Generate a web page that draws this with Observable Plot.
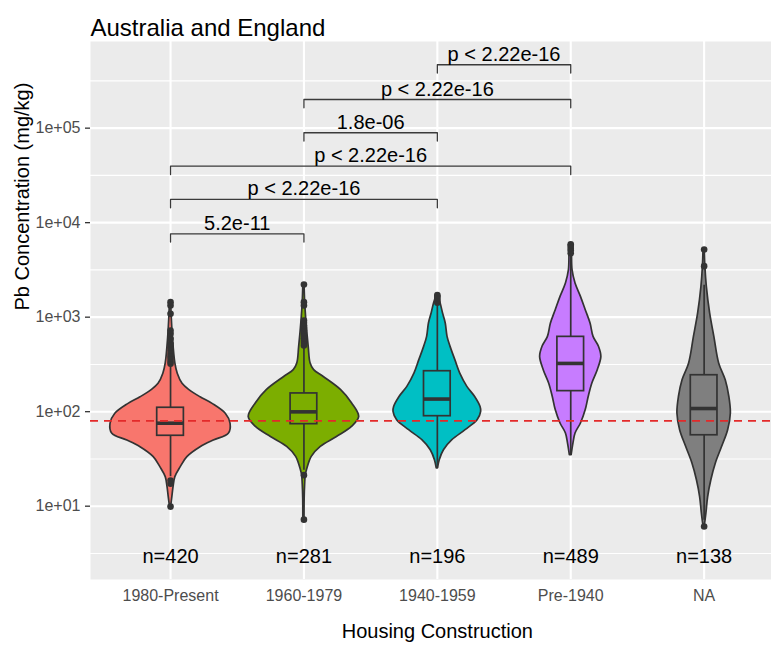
<!DOCTYPE html>
<html><head><meta charset="utf-8">
<script src="https://cdn.jsdelivr.net/npm/d3@7"></script>
<script src="https://cdn.jsdelivr.net/npm/@observablehq/plot@0.6"></script>
<style>html,body{margin:0;padding:0;background:#fff;overflow:hidden}</style>
</head><body><div id="chart"></div>
<script>
// ---------- data ----------
const titleText = "Australia and England";
const xTitle = "Housing Construction";
const yTitle = "Pb Concentration (mg/kg)";
const categories = ["1980-Present", "1960-1979", "1940-1959", "Pre-1940", "NA"];
const counts = [420, 281, 196, 489, 138];
const colors = ["#F8766D", "#7CAE00", "#00BFC4", "#C77CFF", "#7F7F7F"];

const majorBreaks = [10, 100, 1000, 10000, 100000];
const yTickLabels = ["1e+01", "1e+02", "1e+03", "1e+04", "1e+05"];
const minorBreaks = [3.162, 31.62, 316.2, 3162, 31623, 316228];

// violin profiles: concentration values and relative density (half-width)
const violinValues = [
  [9.9, 12.5, 15.9, 20.3, 25.9, 33, 42, 49.5, 58.3, 74.5, 95, 121, 142, 168, 197, 252, 324, 600, 1000, 1442],
  [7.2, 12, 17, 21.3, 24, 33.3, 42.4, 54, 69, 88, 123, 169, 233, 275, 326, 482, 923, 1442, 2213],
  [25.1, 30.7, 39.1, 49.9, 63.7, 81.3, 99.6, 112, 143, 183, 254, 351, 485, 619, 858, 1094, 1396, 1710],
  [34.7, 46, 58.8, 75, 104, 144, 199, 275, 380, 486, 619, 857, 1186, 1641, 2273, 3142, 4750, 5900],
  [6.1, 8.4, 12.5, 18.8, 28.3, 42.5, 63.7, 95.7, 143, 215, 324, 619, 1095, 2095, 3467, 5200]
];
const violinDensity = [
  [0.01, 0.03, 0.05, 0.08, 0.17, 0.28, 0.5, 0.72, 0.97, 1.0, 0.92, 0.7, 0.5, 0.32, 0.2, 0.12, 0.08, 0.04, 0.02, 0.01],
  [0.01, 0.012, 0.02, 0.03, 0.05, 0.13, 0.28, 0.55, 0.8, 0.92, 0.8, 0.62, 0.33, 0.17, 0.11, 0.08, 0.04, 0.02, 0.01],
  [0.01, 0.04, 0.11, 0.25, 0.47, 0.67, 0.73, 0.72, 0.63, 0.5, 0.38, 0.3, 0.22, 0.17, 0.14, 0.095, 0.055, 0.01],
  [0.015, 0.045, 0.08, 0.17, 0.25, 0.3, 0.36, 0.45, 0.51, 0.47, 0.38, 0.33, 0.25, 0.17, 0.08, 0.03, 0.02, 0.01],
  [0.01, 0.038, 0.067, 0.12, 0.195, 0.3, 0.4, 0.445, 0.42, 0.36, 0.25, 0.17, 0.1, 0.045, 0.02, 0.01]
];

// box plot statistics
const q1 = [55.6, 73.8, 89.6, 165, 56.3];
const medians = [75.5, 99.6, 136, 324, 108];
const q3 = [110, 156, 268, 619, 243];
const whiskerLow = [20.5, 24, 25.1, 34.7, 7.1];
const whiskerHigh = [305, 480, 1396, 4400, 2183];
const outliers = [
  [9.9, 17.3, 18.7, 321, 340, 363, 385, 410, 445, 482, 522, 590, 667, 722, 1086, 1331, 1442],
  [7.2, 21.3, 503, 535, 568, 600, 641, 680, 724, 770, 817, 870, 923, 1330, 1442, 2213],
  [1420, 1500, 1580, 1650, 1710],
  [4750, 5100, 5400, 5700, 5900],
  [6.1, 3467, 5200]
];

const threshold = 80;
const nLabelY = 2.9;

// pairwise comparisons (1-based group indices)
const compFrom = [1, 1, 1, 2, 2, 3];
const compTo = [2, 3, 4, 3, 4, 4];
const compY = [7620, 17600, 39600, 89400, 201000, 469000];
const compLabels = ["5.2e-11", "p < 2.22e-16", "p < 2.22e-16", "1.8e-06", "p < 2.22e-16", "p < 2.22e-16"];

// ---------- derived tables ----------
const positions = categories.map((_, i) => i + 1);
const halfMax = 0.45;
const boxHalf = 0.1;
const tipFactor = 0.817;
const ink = "#333333";
const font = "'Liberation Sans', Arial, Helvetica, sans-serif";

const violinMarks = violinValues.map((vals, i) =>
  Plot.areaX(vals.map((v, j) => ({y: v, d: violinDensity[i][j]})), {
    y: "y",
    x1: r => positions[i] - r.d * halfMax,
    x2: r => positions[i] + r.d * halfMax,
    fill: colors[i], stroke: ink, strokeWidth: 1.7, curve: "catmull-rom"
  })
);

const boxes = positions.map((p, i) => ({p, i, q1: q1[i], q3: q3[i], med: medians[i], lo: whiskerLow[i], hi: whiskerHigh[i], color: colors[i]}));
const outlierRows = outliers.flatMap((arr, i) => arr.map(v => ({p: positions[i], v})));

const bracketRows = compFrom.flatMap((a, k) => {
  const b = compTo[k], y = compY[k];
  return [
    {k, x: a, y: y * tipFactor}, {k, x: a, y}, {k, x: b, y}, {k, x: b, y: y * tipFactor}
  ];
});
const bracketText = compFrom.map((a, k) => ({x: (a + compTo[k]) / 2, y: compY[k], t: compLabels[k]}));

const chart = Plot.plot({
  width: 771, height: 654,
  marginLeft: 90, marginRight: 0, marginTop: 41, marginBottom: 75,
  style: {fontFamily: font, background: "#ffffff", color: "#000"},
  x: {type: "linear", domain: [0.4, 5.505], axis: null},
  y: {type: "log", domain: [1.676, 826000], axis: null},
  marks: [
    Plot.frame({fill: "#EBEBEB", stroke: null}),
    Plot.ruleY(minorBreaks, {stroke: "#ffffff", strokeWidth: 1.1}),
    Plot.ruleY(majorBreaks, {stroke: "#ffffff", strokeWidth: 2.1}),
    Plot.ruleX(positions, {stroke: "#ffffff", strokeWidth: 2.1}),
    ...violinMarks,
    Plot.ruleX(boxes, {x: "p", y1: "lo", y2: "hi", stroke: ink, strokeWidth: 1.7}),
    ...boxes.map(b => Plot.rect([b], {x1: d => d.p - boxHalf, x2: d => d.p + boxHalf, y1: "q1", y2: "q3", fill: b.color, stroke: ink, strokeWidth: 1.7})),
    Plot.ruleY(boxes, {y: "med", x1: d => d.p - boxHalf, x2: d => d.p + boxHalf, stroke: ink, strokeWidth: 3.6}),
    Plot.dot(outlierRows, {x: "p", y: "v", r: 3.3, fill: ink, stroke: null}),
    Plot.ruleY([threshold], {stroke: "#E32A2A", strokeWidth: 1.7, strokeDasharray: "8,6"}),
    Plot.line(bracketRows, {x: "x", y: "y", z: "k", stroke: "#3a3a3a", strokeWidth: 1.3, curve: "linear"}),
    Plot.text(bracketText, {x: "x", y: "y", text: "t", dy: -10.4, fontSize: 20, fill: "#000"}),
    Plot.text(positions, {x: d => d, y: () => nLabelY, text: (d, i) => "n=" + counts[i], fontSize: 20, fill: "#000"}),
    Plot.axisY(majorBreaks, {tickFormat: d => yTickLabels[majorBreaks.indexOf(d)], tickSize: 5, tickPadding: 5, fontSize: 16, stroke: ink, fill: "#4D4D4D", strokeWidth: 1.3, label: null}),
    Plot.axisX(positions, {tickFormat: d => categories[d - 1], tickSize: 0, tickPadding: 10, fontSize: 16, fill: "#4D4D4D", label: null}),
    Plot.text([titleText], {frameAnchor: "top-left", textAnchor: "start", dy: -22.7, fontSize: 24, fill: "#000"}),
    Plot.text([xTitle], {x: () => d3.mean(positions), frameAnchor: "bottom", dy: 58.6, fontSize: 20, fill: "#000"}),
    Plot.text([yTitle], {frameAnchor: "left", rotate: -90, dx: -68.4, fontSize: 20, fill: "#000"})
  ]
});
document.getElementById("chart").appendChild(chart);
</script>
</body></html>
